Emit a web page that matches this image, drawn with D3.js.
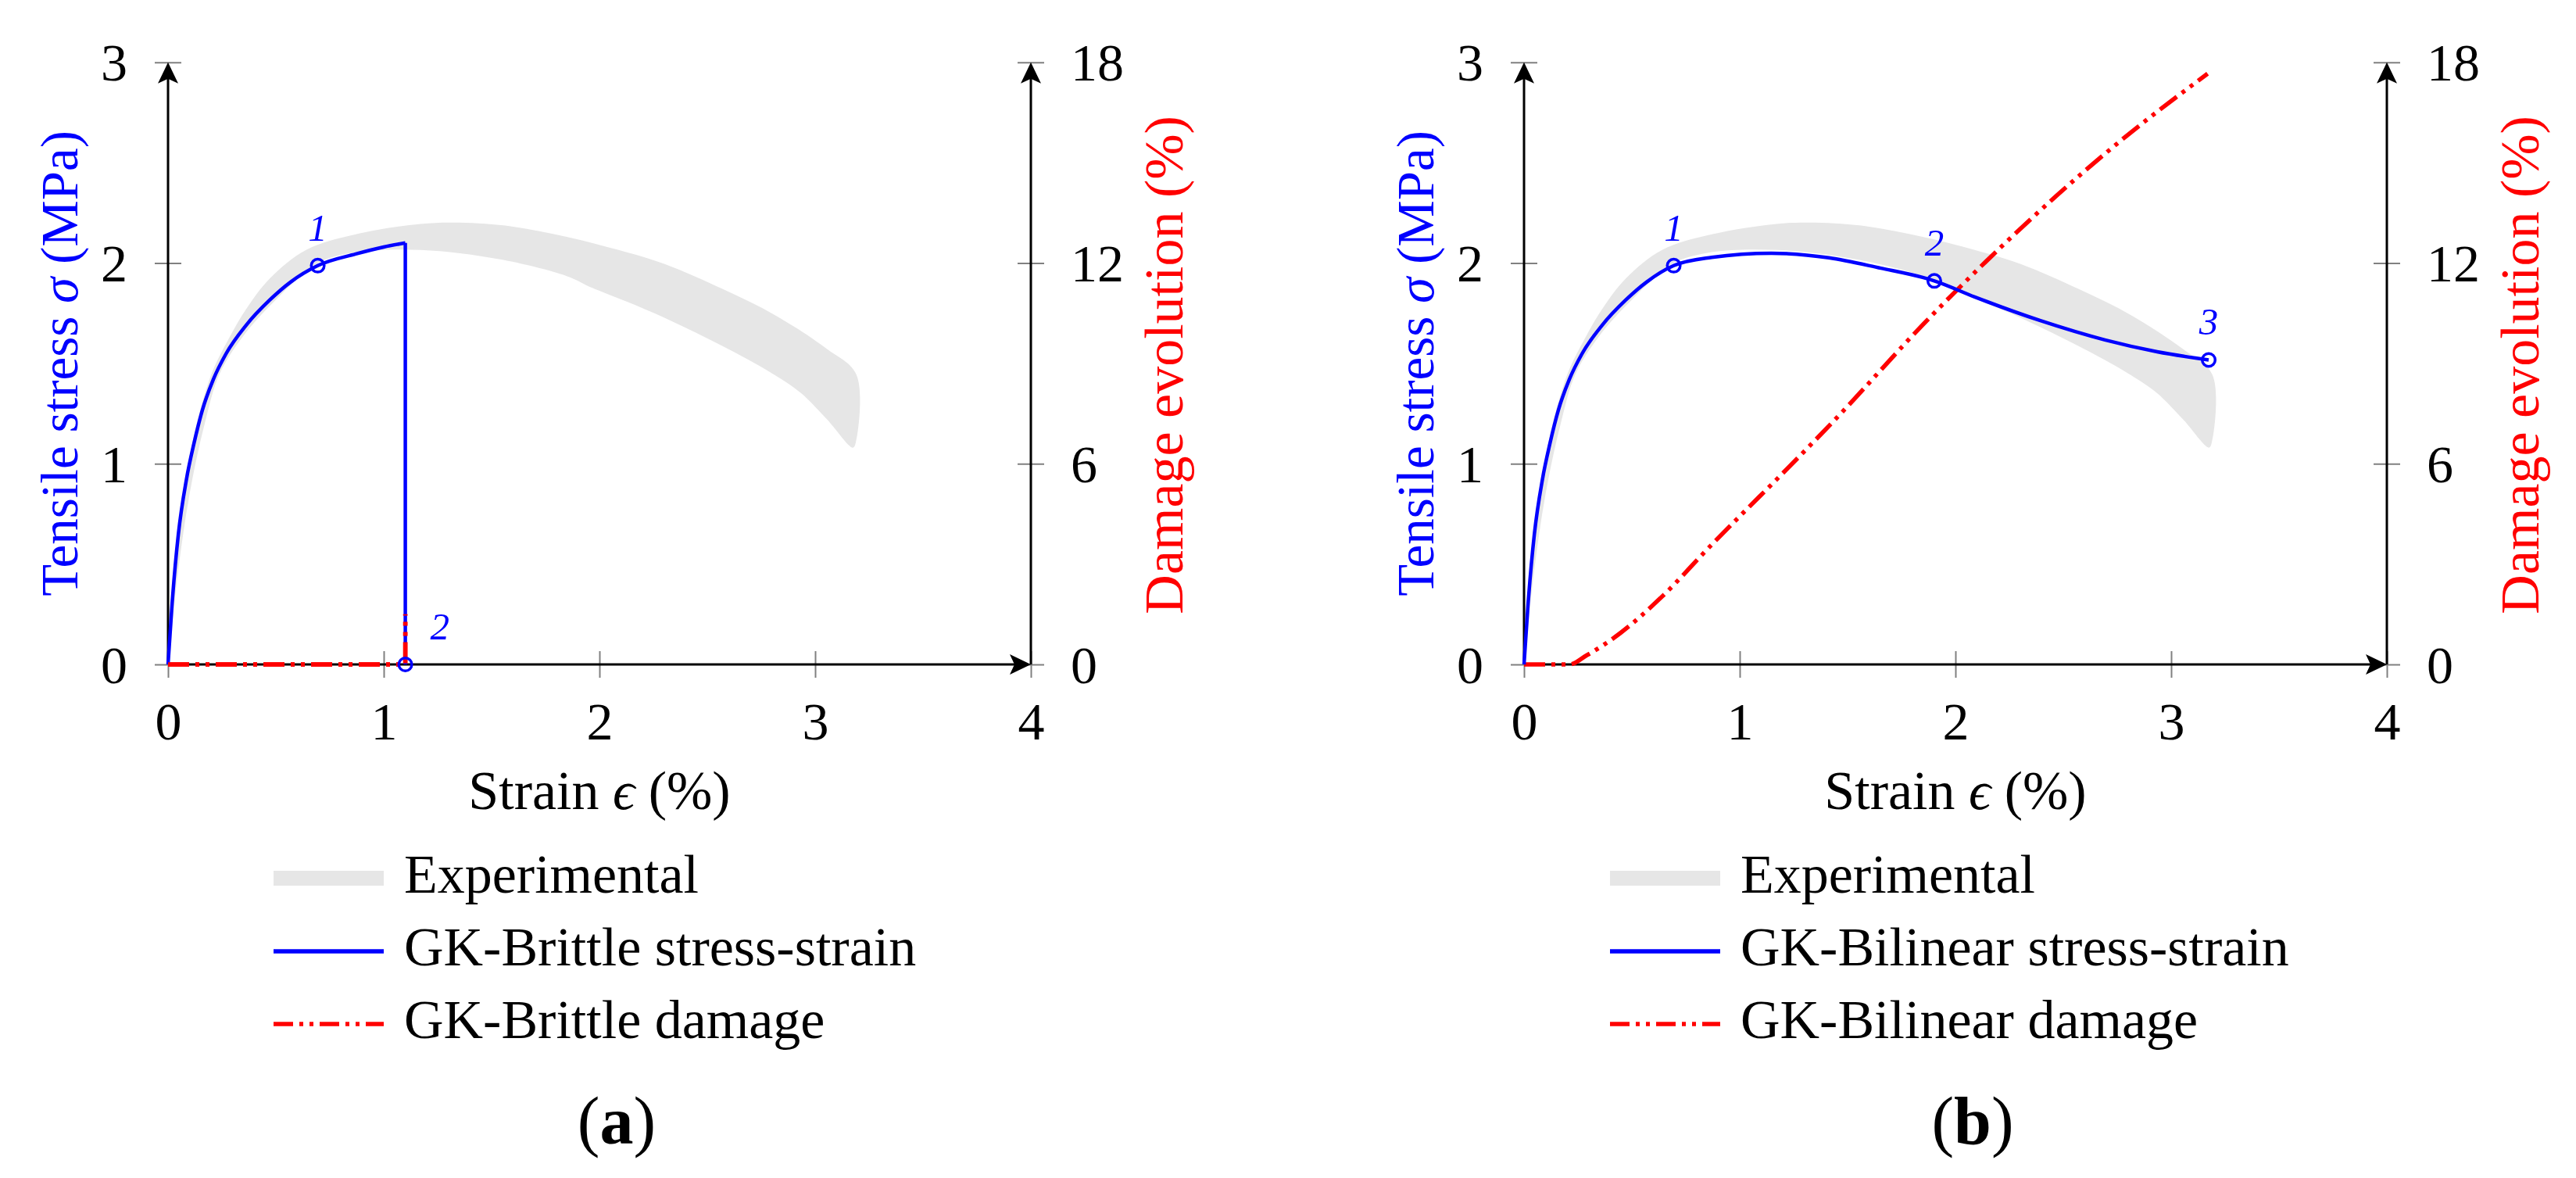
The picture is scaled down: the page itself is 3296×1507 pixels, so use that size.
<!DOCTYPE html>
<html><head><meta charset="utf-8">
<script src="https://cdn.jsdelivr.net/npm/d3@7"></script>
<style>
body{margin:0;background:#fff}
svg{display:block;background:#fff}
text{font-family:"Liberation Serif","Times New Roman",serif}
</style>
</head><body>
<svg id="chart" width="3296" height="1507"></svg>
<script>
// ---------- data ----------
const xTicks = [0, 1, 2, 3, 4];
const yTicks = [0, 1, 2, 3];
const y2Ticks = [0, 6, 12, 18];

// experimental envelope (strain %, stress MPa)
const expUpperStrain = [0, 0.02, 0.05, 0.085, 0.12, 0.16, 0.21, 0.29, 0.362, 0.471, 0.64, 0.87, 1.171, 1.352, 1.594, 1.848, 2.089, 2.307, 2.572, 2.814, 3.055, 3.191, 3.188, 3.175];
const expUpperStress = [0, 0.32, 0.68, 0.95, 1.14, 1.31, 1.47, 1.64, 1.77, 1.922, 2.065, 2.143, 2.195, 2.201, 2.182, 2.13, 2.065, 1.993, 1.870, 1.740, 1.571, 1.444, 1.104, 1.08];
const expLowerStrain = [3.055, 2.935, 2.814, 2.597, 2.355, 2.162, 1.969, 1.848, 1.534, 1.171, 0.870, 0.694, 0.604, 0.507, 0.362, 0.24, 0.17, 0.1, 0.045, 0];
const expLowerStress = [1.221, 1.351, 1.441, 1.571, 1.70, 1.792, 1.875, 1.935, 2.019, 2.065, 2.054, 2.0, 1.925, 1.825, 1.655, 1.45, 1.20, 0.85, 0.45, 0];

// GK-Brittle
const brittleStrain = [0, 0.018, 0.048, 0.085, 0.12, 0.16, 0.21, 0.27, 0.362, 0.471, 0.568, 0.694, 0.870, 1.0, 1.1];
const brittleStress = [0, 0.29, 0.65, 0.92, 1.10, 1.27, 1.42, 1.55, 1.69, 1.815, 1.905, 1.987, 2.045, 2.08, 2.1];
const brittleDropStrain = [1.1, 1.1];
const brittleDropStress = [2.1, 0];
const brittleDamageStrain = [0, 1.1, 1.1];
const brittleDamage = [0, 0, 1.5];
const brittleMarkStrain = [0.694, 1.1];
const brittleMarkStress = [1.987, 0];
const brittleMarkLabels = ["1", "2"];

// GK-Bilinear
const bilinearStrain = [0, 0.018, 0.048, 0.085, 0.12, 0.16, 0.21, 0.27, 0.362, 0.471, 0.568, 0.694, 0.870, 1.147, 1.413, 1.655, 1.848, 1.902, 2.089, 2.391, 2.693, 2.935, 3.174];
const bilinearStress = [0, 0.29, 0.65, 0.92, 1.10, 1.27, 1.42, 1.55, 1.69, 1.815, 1.905, 1.987, 2.028, 2.049, 2.026, 1.974, 1.928, 1.911, 1.831, 1.714, 1.617, 1.558, 1.517];
const bilinearDamageStrain = [0, 0.211, 0.29, 0.447, 0.640, 0.870, 1.014, 1.171, 1.461, 1.848, 2.21, 2.47, 2.782, 3.169];
const bilinearDamage = [0, 0, 0.27, 0.94, 2.03, 3.58, 4.52, 5.53, 7.45, 10.15, 12.47, 14.02, 15.74, 17.66];
const bilinearMarkStrain = [0.694, 1.902, 3.174];
const bilinearMarkStress = [1.987, 1.911, 1.517];
const bilinearMarkLabels = ["1", "2", "3"];

const legendA = ["Experimental", "GK-Brittle stress-strain", "GK-Brittle damage"];
const legendB = ["Experimental", "GK-Bilinear stress-strain", "GK-Bilinear damage"];

// ---------- drawing ----------
const svg = d3.select("#chart");
const W = 1104, H = 770.3, TOP = 79.7;
const BLUE = "#0000ff", RED = "#ff0000", BAND = "#e6e6e6", TICK = "#808080";
const DASH = "27 8 5 8 5 8";

const zip = (a, b) => a.map((v, i) => [v, b[i]]);

function arrow(g, x, y, angle) {
  g.append("path")
    .attr("d", "M0,0 L-27,-13 L-21,0 L-27,13 Z")
    .attr("transform", `translate(${x},${y}) rotate(${angle})`)
    .attr("fill", "#000");
}

function drawPanel(cfg) {
  const g = svg.append("g").attr("transform", `translate(${cfg.x0},${TOP})`);
  const x = d3.scaleLinear().domain([0, 4]).range([0, W]);
  const y = d3.scaleLinear().domain([0, 3]).range([H, 0]);
  const y2 = d3.scaleLinear().domain([0, 18]).range([H, 0]);

  // experimental band
  const band = zip(expUpperStrain, expUpperStress).concat(zip(expLowerStrain, expLowerStress));
  const bandLine = d3.line().x(d => x(d[0])).y(d => y(d[1])).curve(d3.curveCatmullRom.alpha(0.5));
  g.append("path").attr("d", bandLine(band) + "Z").attr("fill", BAND).attr("stroke", "none");

  // axes (ticks + labels)
  const ax = g.append("g").attr("transform", `translate(0,${H})`)
    .call(d3.axisBottom(x).tickValues(xTicks).tickSize(17).tickFormat(d3.format("d")));
  const ay = g.append("g").call(d3.axisLeft(y).tickValues(yTicks).tickSize(17).tickFormat(d3.format("d")));
  const ay2 = g.append("g").attr("transform", `translate(${W},0)`)
    .call(d3.axisRight(y2).tickValues(y2Ticks).tickSize(17).tickFormat(d3.format("d")));
  [ax, ay, ay2].forEach(a => {
    a.select(".domain").remove();
    a.attr("font-size", 68).attr("font-family", '"Liberation Serif","Times New Roman",serif');
    a.selectAll(".tick text").attr("fill", "#000");
  });
  ax.selectAll(".tick line").attr("y1", -17).attr("y2", 17).attr("stroke", TICK).attr("stroke-width", 2);
  ax.selectAll(".tick text").attr("y", 96).attr("dy", 0);
  ay.selectAll(".tick line").attr("x1", -17).attr("x2", 17).attr("stroke", TICK).attr("stroke-width", 2);
  ay.selectAll(".tick text").attr("x", -52).attr("dy", "0.34em");
  ay2.selectAll(".tick line").attr("x1", -17).attr("x2", 17).attr("stroke", TICK).attr("stroke-width", 2);
  ay2.selectAll(".tick text").attr("x", 51).attr("dy", "0.34em");

  // axis lines with arrows
  const axl = g.append("g").attr("stroke", "#000").attr("stroke-width", 3);
  axl.append("line").attr("x1", x(0)).attr("x2", x(4) - 18).attr("y1", y(0)).attr("y2", y(0));
  axl.append("line").attr("x1", x(0)).attr("x2", x(0)).attr("y1", y(0)).attr("y2", y(3) + 18);
  axl.append("line").attr("x1", x(4)).attr("x2", x(4)).attr("y1", y(0)).attr("y2", y(3) + 18);
  arrow(g, x(4), y(0), 0);
  arrow(g, x(0), y(3), -90);
  arrow(g, x(4), y(3), -90);

  // data
  const smooth = d3.line().x(d => x(d[0])).y(d => y(d[1])).curve(d3.curveMonotoneX);
  const straight = d3.line().x(d => x(d[0])).y(d => y(d[1]));
  const dmg = cfg.dmgCurve.x(d => x(d[0])).y(d => y2(d[1]));

  g.append("path").attr("d", dmg(zip(cfg.damageStrain, cfg.damage)))
    .attr("fill", "none").attr("stroke", RED).attr("stroke-width", 5.5).attr("stroke-dasharray", DASH);
  g.append("path").attr("d", smooth(zip(cfg.strain, cfg.stress)))
    .attr("fill", "none").attr("stroke", BLUE).attr("stroke-width", 4.5).attr("stroke-linejoin", "round");
  if (cfg.dropStrain) {
    g.append("path").attr("d", straight(zip(cfg.dropStrain, cfg.dropStress)))
      .attr("fill", "none").attr("stroke", BLUE).attr("stroke-width", 4.5);
  }
  if (cfg.damageOnTop) {
    g.append("path").attr("d", dmg(zip(cfg.damageStrain, cfg.damage)))
      .attr("fill", "none").attr("stroke", RED).attr("stroke-width", 5.5).attr("stroke-dasharray", DASH);
  }

  // markers and labels
  const marks = cfg.markStrain.map((s, i) => ({s, v: cfg.markStress[i], l: cfg.markLabels[i], pos: cfg.markPos[i]}));
  g.selectAll("circle.m").data(marks).join("circle").attr("class", "m")
    .attr("cx", d => x(d.s)).attr("cy", d => y(d.v)).attr("r", 8.3)
    .attr("fill", "none").attr("stroke", BLUE).attr("stroke-width", 3.5);
  g.selectAll("text.ml").data(marks).join("text").attr("class", "ml")
    .attr("x", d => x(d.s) + (d.pos === "ar" ? 32 : 0))
    .attr("y", d => y(d.v) - 32)
    .attr("text-anchor", d => d.pos === "ar" ? "start" : "middle")
    .attr("font-style", "italic").attr("font-size", 49).attr("fill", BLUE)
    .text(d => d.l);

  // axis titles
  const yl = g.append("text").attr("transform", `translate(-116,${y(1.5)}) rotate(-90)`)
    .attr("text-anchor", "middle").attr("font-size", 67).attr("fill", BLUE);
  yl.append("tspan").text("Tensile stress ");
  yl.append("tspan").attr("font-style", "italic").text("σ");
  yl.append("tspan").text(" (MPa)");

  g.append("text").attr("transform", `translate(${W + 194},${y(1.5) + 2}) rotate(-90)`)
    .attr("text-anchor", "middle").attr("font-size", 70).attr("fill", RED)
    .text("Damage evolution (%)");

  const xl = g.append("text").attr("x", x(2)).attr("y", 1035 - TOP)
    .attr("text-anchor", "middle").attr("font-size", 70).attr("fill", "#000");
  xl.append("tspan").text("Strain ");
  xl.append("tspan").attr("font-style", "italic").text("ϵ");
  xl.append("tspan").text(" (%)");

  // legend (absolute)
  const lg = svg.append("g");
  const rows = [1123.5, 1217, 1310];
  const bases = [1142, 1235, 1328];
  lg.append("rect").attr("x", cfg.legX).attr("y", rows[0] - 9.5).attr("width", 141).attr("height", 19).attr("fill", BAND);
  lg.append("line").attr("x1", cfg.legX).attr("x2", cfg.legX + 141).attr("y1", rows[1]).attr("y2", rows[1])
    .attr("stroke", BLUE).attr("stroke-width", 5.5);
  lg.append("line").attr("x1", cfg.legX).attr("x2", cfg.legX + 141).attr("y1", rows[2]).attr("y2", rows[2])
    .attr("stroke", RED).attr("stroke-width", 5.5).attr("stroke-dasharray", "25 8 5 8 5 8");
  lg.selectAll("text").data(cfg.legend).join("text")
    .attr("x", cfg.legX + 167).attr("y", (d, i) => bases[i])
    .attr("font-size", 70).attr("fill", "#000").text(d => d);

  // caption
  const cap = svg.append("text").attr("x", cfg.x0 + 574).attr("y", 1463)
    .attr("text-anchor", "middle").attr("font-size", 86).attr("fill", "#000");
  cap.append("tspan").text("(");
  cap.append("tspan").attr("font-weight", "bold").text(cfg.caption);
  cap.append("tspan").text(")");
}

drawPanel({
  x0: 215, legX: 350, caption: "a", legend: legendA,
  strain: brittleStrain, stress: brittleStress,
  dropStrain: brittleDropStrain, dropStress: brittleDropStress,
  damageStrain: brittleDamageStrain, damage: brittleDamage, dmgCurve: d3.line(), damageOnTop: true,
  markStrain: brittleMarkStrain, markStress: brittleMarkStress, markLabels: brittleMarkLabels, markPos: ["a", "ar"]
});
drawPanel({
  x0: 1950, legX: 2060, caption: "b", legend: legendB,
  strain: bilinearStrain, stress: bilinearStress,
  damageStrain: bilinearDamageStrain, damage: bilinearDamage, dmgCurve: d3.line().curve(d3.curveMonotoneX),
  markStrain: bilinearMarkStrain, markStress: bilinearMarkStress, markLabels: bilinearMarkLabels, markPos: ["a", "a", "a"]
});
</script>
</body></html>
